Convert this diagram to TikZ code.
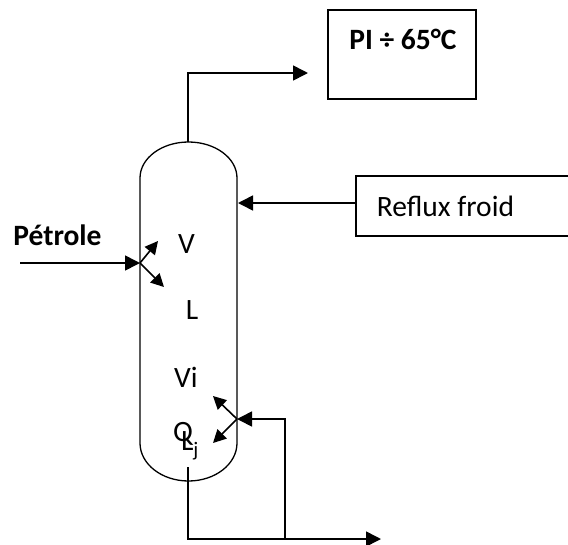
\documentclass[tikz,border=0pt]{standalone}
\usepackage{fontspec}
\setmainfont{Carlito}
\usetikzlibrary{arrows.meta}

\begin{document}
\begin{tikzpicture}[x=1pt,y=-1pt,inner sep=0pt,draw=black]
				\tikzstyle{every node}=[font=\fontsize{29.5}{32}\selectfont]
				\tikzstyle{negrita}=[font=\fontsize{29.5}{32}\selectfont\bfseries]
				\tikzstyle{caja}=[draw,line width=1.3pt]
				\tikzstyle{columna}=[line width=1.3pt]
				\tikzstyle{flujo}=[-{Triangle[length=15pt,width=15pt]},line width=1.6pt]
				\tikzstyle{rama}=[-{Triangle[length=13pt,width=13pt]},line width=1.6pt]
				\useasboundingbox (0,0) rectangle (568,544);

				%COLUMNA
				\draw[columna]	(140,178) arc[start angle=180,end angle=0,x radius=48.5,y radius=-36]
						-- (237,443) arc[start angle=0,end angle=-180,x radius=48.5,y radius=-38] -- cycle;

				%NODOS
				\node[caja,minimum width=148,minimum height=89]		(pi)		at (402,54.5)	{};
				\node[negrita]	(pitext)	at (403,39)	{PI ÷ 65°C};
				\node[caja,minimum width=224,minimum height=60]		(reflux)	at (468,206)	{};
				\node		(refluxtext)	at (445.5,206)	{Reflux froid};
				\node[negrita]	(petrole)	at (57.5,235)	{Pétrole};
				\node		(v)		at (186.5,244)	{V};
				\node		(l)		at (192,310)	{L};
				\node		(vi)		at (186,377)	{Vi};
				\node		(q)		at (183,434)	{Q};
				\node		(lj)		at (190,446)	{L\textsubscript{j}};

				%PUNTOS
				\coordinate	(cima)		at (188,142);
				\coordinate	(codo1)		at (188,73);
				\coordinate	(fin1)		at (308,73);
				\coordinate	(entrada)	at (20,263);
				\coordinate	(alim)		at (140,263);
				\coordinate	(alim1)		at (158,241);
				\coordinate	(alim2)		at (164,287);
				\coordinate	(ref)		at (238,203);
				\coordinate	(refsal)	at (356,203);
				\coordinate	(fondo)		at (188,467);
				\coordinate	(codo2)		at (188,539);
				\coordinate	(fin2)		at (381,539);
				\coordinate	(brazo)		at (285,539);
				\coordinate	(codo3)		at (285,419);
				\coordinate	(reb)		at (237,419);
				\coordinate	(reb1)		at (213,396);
				\coordinate	(reb2)		at (213,443);

				%FLUJOS
				\draw[flujo]	(cima) -- (codo1) -- (fin1);
				\draw[flujo]	(refsal) -- (ref);
				\draw[flujo]	(entrada) -- (alim);
				\draw[rama]	(alim) -- (alim1);
				\draw[rama]	(alim) -- (alim2);
				\draw[flujo]	(fondo) -- (codo2) -- (fin2);
				\draw[flujo]	(brazo) -- (codo3) -- (reb);
				\draw[rama]	(reb) -- (reb1);
				\draw[rama]	(reb) -- (reb2);
\end{tikzpicture}
\end{document}
